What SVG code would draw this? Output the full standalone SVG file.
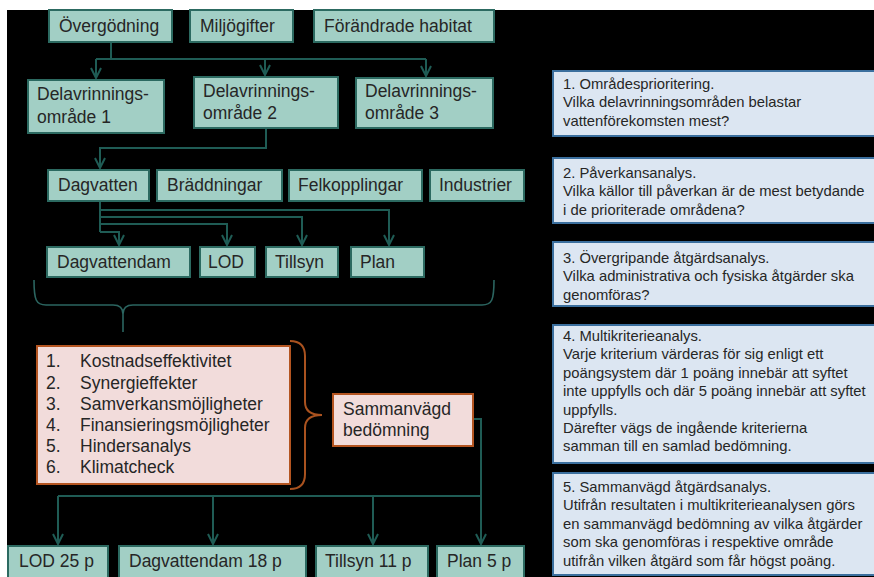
<svg xmlns="http://www.w3.org/2000/svg" width="874" height="577" viewBox="0 0 874 577">
<defs>
<style>
text{font-family:"Liberation Sans",Arial,sans-serif;fill:#262626}
.t{font-size:17.5px}
.s{font-size:14.8px}
.teal{fill:#A2CFC5;stroke:#2C6A61;stroke-width:2}
.pink{fill:#F2DCDB;stroke:#B45521;stroke-width:2}
.blue{fill:#DCE6F2;stroke:#3B6F9E;stroke-width:2}
.con{fill:none;stroke:#1F5C55;stroke-width:2}
.arr{marker-end:url(#ah)}
</style>
<marker id="ah" viewBox="0 0 12 12" refX="11" refY="6" markerWidth="12" markerHeight="12" markerUnits="userSpaceOnUse" orient="auto">
<path d="M1,1 L11,6 L1,11" fill="none" stroke="#1F5C55" stroke-width="2"/>
</marker>
</defs>
<rect x="0" y="0" width="874" height="577" fill="#fff"/>
<rect x="7" y="10" width="867" height="567" fill="#000"/>

<g id="connectors">
<path class="con" d="M111,42 V59 M96,59 H426"/>
<path class="con arr" d="M96,59 V78"/>
<path class="con arr" d="M265,59 V75"/>
<path class="con arr" d="M426,59 V76"/>
<path class="con arr" d="M266,128 V148 H100 V168"/>
<path class="con" d="M100,201 V232"/>
<path class="con arr" d="M100,210 H389 V245"/>
<path class="con arr" d="M100,217 H302 V245"/>
<path class="con arr" d="M100,224 H227 V245"/>
<path class="con arr" d="M100,232 H119 V245"/>
<path fill="none" stroke="#2B6560" stroke-width="1.6" d="M34,280 C34,300 36,305 46,305 L113,305 C120,305 123,308 123,314 L123,332 M123,314 C123,308 126,305 133,305 L482,305 C492,305 494,300 494,280"/>
<path fill="none" stroke="#A9521F" stroke-width="2" d="M290,341 Q305,341 305,356 L305,402 Q305,415 322,415 Q305,415 305,428 L305,474 Q305,489 290,489"/>
<path class="con arr" d="M473,419 H481 V544"/>
<path class="con" d="M481,496 H58"/>
<path class="con arr" d="M58,496 V544"/>
<path class="con arr" d="M213,496 V544"/>
<path class="con arr" d="M373,496 V544"/>
</g>

<g id="n-overgodning"><rect class="teal" x="49" y="10" width="123" height="32"/><text class="t" x="59" y="32">Övergödning</text></g>
<g id="n-miljogifter"><rect class="teal" x="190" y="10" width="103" height="32"/><text class="t" x="200" y="32">Miljögifter</text></g>
<g id="n-habitat"><rect class="teal" x="314" y="10" width="180" height="32"/><text class="t" x="324" y="32">Förändrade habitat</text></g>

<g id="n-delav1"><rect class="teal" x="28" y="80" width="136" height="53"/><text class="t" x="37" y="100">Delavrinnings-</text><text class="t" x="37" y="123">område 1</text></g>
<g id="n-delav2"><rect class="teal" x="194" y="77" width="144" height="51"/><text class="t" x="203" y="97">Delavrinnings-</text><text class="t" x="203" y="119">område 2</text></g>
<g id="n-delav3"><rect class="teal" x="356" y="78" width="137" height="50"/><text class="t" x="365" y="97">Delavrinnings-</text><text class="t" x="365" y="119">område 3</text></g>

<g id="n-dagvatten"><rect class="teal" x="48" y="170" width="101" height="31"/><text class="t" x="58" y="191">Dagvatten</text></g>
<g id="n-braddningar"><rect class="teal" x="157" y="170" width="125" height="31"/><text class="t" x="167" y="191">Bräddningar</text></g>
<g id="n-felkopplingar"><rect class="teal" x="289" y="170" width="133" height="31"/><text class="t" x="298" y="191">Felkopplingar</text></g>
<g id="n-industrier"><rect class="teal" x="430" y="170" width="94" height="31"/><text class="t" x="439" y="191">Industrier</text></g>

<g id="n-dagvattendam"><rect class="teal" x="47" y="247" width="143" height="30"/><text class="t" x="57" y="268">Dagvattendam</text></g>
<g id="n-lod"><rect class="teal" x="200" y="247" width="55" height="30"/><text class="t" x="208" y="268">LOD</text></g>
<g id="n-tillsyn"><rect class="teal" x="266" y="247" width="72" height="30"/><text class="t" x="275" y="268">Tillsyn</text></g>
<g id="n-plan"><rect class="teal" x="351" y="247" width="73" height="30"/><text class="t" x="360" y="268">Plan</text></g>

<g id="n-kriterier"><rect class="pink" x="37" y="346" width="253" height="138"/>
<text class="t" x="46" y="367">1.</text><text class="t" x="80" y="367">Kostnadseffektivitet</text>
<text class="t" x="46" y="388.5">2.</text><text class="t" x="80" y="388.5">Synergieffekter</text>
<text class="t" x="46" y="410">3.</text><text class="t" x="80" y="410">Samverkansmöjligheter</text>
<text class="t" x="46" y="431">4.</text><text class="t" x="80" y="431">Finansieringsmöjligheter</text>
<text class="t" x="46" y="452">5.</text><text class="t" x="80" y="452">Hindersanalys</text>
<text class="t" x="46" y="473">6.</text><text class="t" x="80" y="473">Klimatcheck</text>
</g>
<g id="n-sammanvagd"><rect class="pink" x="333" y="394" width="140" height="52"/><text class="t" x="343" y="415">Sammanvägd</text><text class="t" x="343" y="436">bedömning</text></g>

<g id="n-lod25"><rect class="teal" x="8" y="546" width="100" height="45"/><text class="t" x="19" y="567">LOD 25 p</text></g>
<g id="n-dagvattendam18"><rect class="teal" x="119" y="546" width="187" height="45"/><text class="t" x="129" y="567">Dagvattendam 18 p</text></g>
<g id="n-tillsyn11"><rect class="teal" x="316" y="546" width="112" height="45"/><text class="t" x="325" y="567">Tillsyn 11 p</text></g>
<g id="n-plan5"><rect class="teal" x="437" y="546" width="87" height="45"/><text class="t" x="447" y="567">Plan 5 p</text></g>

<g id="n-steg1"><rect class="blue" x="553" y="71" width="330" height="65"/>
<text class="s" x="563" y="89">1. Områdesprioritering.</text>
<text class="s" x="563" y="107.3">Vilka delavrinningsområden belastar</text>
<text class="s" x="563" y="125.6">vattenförekomsten mest?</text></g>
<g id="n-steg2"><rect class="blue" x="553" y="158" width="330" height="65"/>
<text class="s" x="563" y="178">2. Påverkansanalys.</text>
<text class="s" x="563" y="196.3">Vilka källor till påverkan är de mest betydande</text>
<text class="s" x="563" y="214.6">i de prioriterade områdena?</text></g>
<g id="n-steg3"><rect class="blue" x="553" y="242" width="330" height="64"/>
<text class="s" x="563" y="263">3. Övergripande åtgärdsanalys.</text>
<text class="s" x="563" y="281.3">Vilka administrativa och fysiska åtgärder ska</text>
<text class="s" x="563" y="299.6">genomföras?</text></g>
<g id="n-steg4"><rect class="blue" x="553" y="325" width="330" height="138"/>
<text class="s" x="563" y="341">4. Multikriterieanalys.</text>
<text class="s" x="563" y="359.4">Varje kriterium värderas för sig enligt ett</text>
<text class="s" x="563" y="377.8">poängsystem där 1 poäng innebär att syftet</text>
<text class="s" x="563" y="396.2">inte uppfylls och där 5 poäng innebär att syftet</text>
<text class="s" x="563" y="414.6">uppfylls.</text>
<text class="s" x="563" y="433">Därefter vägs de ingående kriterierna</text>
<text class="s" x="563" y="451.4">samman till en samlad bedömning.</text></g>
<g id="n-steg5"><rect class="blue" x="553" y="473" width="330" height="102"/>
<text class="s" x="563" y="492">5. Sammanvägd åtgärdsanalys.</text>
<text class="s" x="563" y="510.4">Utifrån resultaten i multikriterieanalysen görs</text>
<text class="s" x="563" y="528.8">en sammanvägd bedömning av vilka åtgärder</text>
<text class="s" x="563" y="547.2">som ska genomföras i respektive område</text>
<text class="s" x="563" y="565.6">utifrån vilken åtgärd som får högst poäng.</text></g>
</svg>
